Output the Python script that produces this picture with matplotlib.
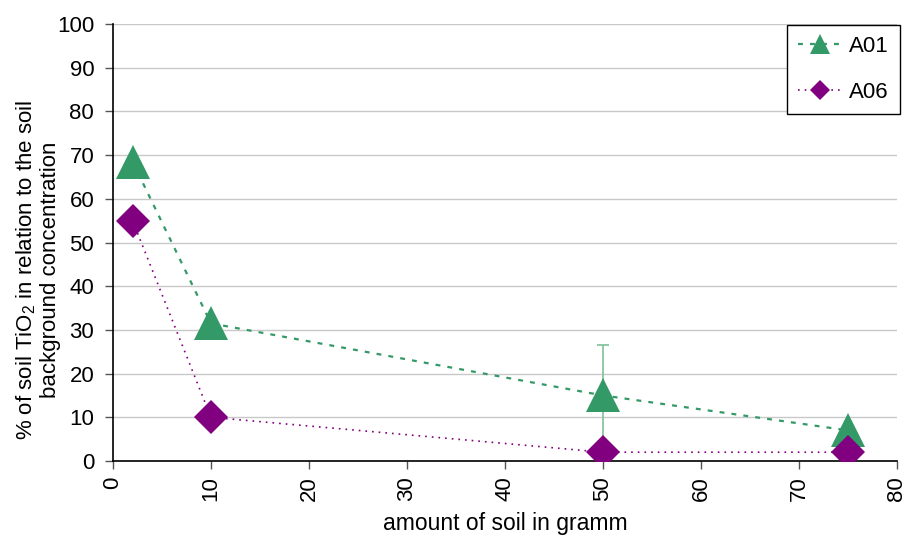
import matplotlib
matplotlib.use("Agg")
import matplotlib.pyplot as plt

plt.rcParams['font.family'] = ['Liberation Sans', 'DejaVu Sans']
plt.rcParams['mathtext.fontset'] = 'custom'
plt.rcParams['mathtext.rm'] = 'Liberation Sans'
plt.rcParams['mathtext.it'] = 'Liberation Sans'

x_vals = [2, 10, 50, 75]
a01 = [68.5, 31.5, 15, 7]
a01_err = [0, 0, 11.5, 0]
a06 = [55, 10, 2, 2]
series_names = ["A01", "A06"]
x_ticks = [0, 10, 20, 30, 40, 50, 60, 70, 80]
y_ticks = [0, 10, 20, 30, 40, 50, 60, 70, 80, 90, 100]

green = "#339966"
purple = "#800080"

fig = plt.figure(figsize=(9.06, 5.36), dpi=100)
ax = fig.add_axes([0.1247, 0.140, 0.8653, 0.815])

ax.errorbar(x_vals, a01, yerr=a01_err, fmt='none', ecolor="#7fbf9a",
            elinewidth=1.2, capsize=4, capthick=1.2, zorder=2)
ax.plot(x_vals, a01, color=green, linestyle=(0, (2.2, 3.2)), linewidth=1.6,
        marker='^', markersize=24, markeredgewidth=0, label=series_names[0], zorder=3)
ax.plot(x_vals, a06, color=purple, linestyle=(0, (1, 3)), linewidth=1.2,
        marker='D', markersize=17, markeredgewidth=0, label=series_names[1], zorder=4)

ax.set_xlim(0, 80)
ax.set_ylim(0, 100)
ax.set_xticks(x_ticks)
ax.set_yticks(y_ticks)
ax.set_xticklabels([str(t) for t in x_ticks], rotation=90)
ax.tick_params(axis='both', labelsize=16, direction='out', length=6, width=1, color='#555555')
ax.tick_params(axis='x', pad=5)
ax.tick_params(axis='y', pad=7.5)
ax.grid(axis='y', color='#c8c8c8', linewidth=1)
ax.set_axisbelow(True)
for s in ['top', 'right']:
    ax.spines[s].set_visible(False)
ax.spines['left'].set_linewidth(1.2)
ax.spines['bottom'].set_linewidth(1.2)

ax.set_ylabel("% of soil TiO$_2$ in relation to the soil\nbackground concentration",
              fontsize=16, linespacing=1.15)
ax.yaxis.set_label_coords(-0.066, 0.437)
ax.set_xlabel("amount of soil in gramm", fontsize=16.5, labelpad=8)

leg = ax.legend(loc='upper right', bbox_to_anchor=(1.004, 0.998), fontsize=16,
                frameon=True, fancybox=False, edgecolor='black', framealpha=1,
                handlelength=2.0, markerscale=0.6, borderpad=0.5, labelspacing=1.1,
                handletextpad=0.3, borderaxespad=0)
leg.get_frame().set_linewidth(1.0)

fig.savefig("out.png", dpi=100)
